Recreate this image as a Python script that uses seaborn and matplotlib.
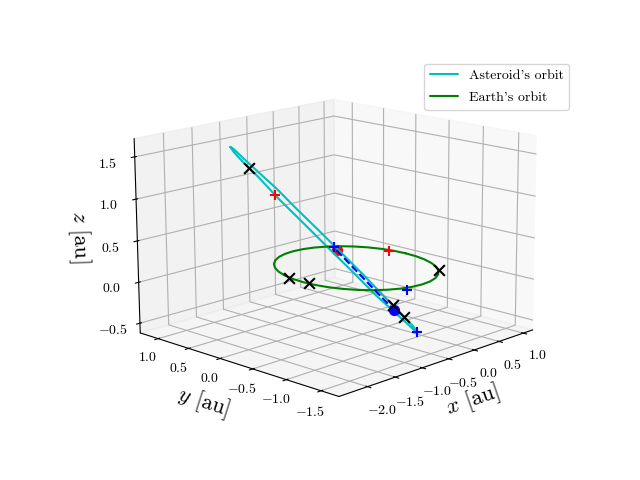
import matplotlib
matplotlib.use('Agg')
import matplotlib.pyplot as plt
import seaborn as sns

# orbit points (au)
ast_x = [-1.59, -1.33, -1.05, -0.76, -0.48, -0.24, -0.04, 0.09, 0.16, 0.14, 0.06, -0.10,
         -0.31, -0.57, -0.85, -1.14, -1.42, -1.66, -1.86, -1.99, -2.06, -2.04, -1.96, -1.80, -1.59]
ast_y = [0.60, 0.78, 0.88, 0.91, 0.85, 0.72, 0.52, 0.26, -0.03, -0.34, -0.65, -0.93,
         -1.17, -1.35, -1.45, -1.48, -1.42, -1.29, -1.09, -0.83, -0.54, -0.23, 0.08, 0.36, 0.60]
ast_z = [1.60, 1.51, 1.345, 1.14, 0.896, 0.62, 0.345, 0.085, -0.145, -0.325, -0.445, -0.49,
         -0.48, -0.39, -0.225, -0.02, 0.225, 0.50, 0.78, 1.04, 1.265, 1.45, 1.565, 1.61, 1.60]

earth_x = [1.0, 0.985, 0.94, 0.866, 0.766, 0.643, 0.5, 0.342, 0.174, 0.0, -0.174, -0.342, -0.5, -0.643,
           -0.766, -0.866, -0.94, -0.985, -1.0, -0.985, -0.94, -0.866, -0.766, -0.643, -0.5, -0.342,
           -0.174, 0.0, 0.174, 0.342, 0.5, 0.643, 0.766, 0.866, 0.94, 0.985, 1.0]
earth_y = [0.0, 0.174, 0.342, 0.5, 0.643, 0.766, 0.866, 0.94, 0.985, 1.0, 0.985, 0.94, 0.866, 0.766,
           0.643, 0.5, 0.342, 0.174, 0.0, -0.174, -0.342, -0.5, -0.643, -0.766, -0.866, -0.94,
           -0.985, -1.0, -0.985, -0.94, -0.866, -0.766, -0.643, -0.5, -0.342, -0.174, 0.0]
earth_z = [0.0] * len(earth_x)

# marked positions
black_x = [-0.86, 0.19, 0.09, 0.67, -0.97, -0.99]
black_y = [0.95, -0.42, -0.67, -0.75, 0.24, -0.08]
black_z = [1.19, -0.41, -0.49, 0.0, 0.0, 0.0]
red_x = [-0.46, 0.92]
red_y = [0.89, 0.19]
red_z = [0.80, 0.0]
blue_x = [0.135, -0.36, -0.34]
blue_y = [0.44, -1.20, -1.03]
blue_z = [0.146, -0.465, 0.0]
earth_now = [0.46, 0.67, 0.0]
ast_now = [0.16, -0.46, -0.46]

x_ticks = [-2.0, -1.5, -1.0, -0.5, 0.0, 0.5, 1.0]
y_ticks = [-1.5, -1.0, -0.5, 0.0, 0.5, 1.0]
z_ticks = [-0.5, 0.0, 0.5, 1.0, 1.5]

sns.set_style('ticks', rc={'axes.edgecolor': 'black', 'text.color': 'black', 'axes.labelcolor': 'black',
                           'xtick.color': 'black', 'ytick.color': 'black',
                           'grid.color': '#b0b0b0', 'grid.linewidth': 0.8})
plt.rcParams['font.family'] = ['cmr10', 'DejaVu Serif']
plt.rcParams['mathtext.fontset'] = 'cm'
plt.rcParams['axes.formatter.use_mathtext'] = True
plt.rcParams['axes.unicode_minus'] = True

fig = plt.figure(figsize=(6.4, 4.8), dpi=100)
ax = fig.add_axes([0.13, 0.114, 0.775, 0.77], projection='3d')
ax.view_init(14.7, -135.5, roll=0.3)
ax.set_box_aspect((4.2, 4.2, 3), zoom=1.17)

ax.plot(ast_x, ast_y, ast_z, color='c', label="Asteroid's orbit")
ax.plot(earth_x, earth_y, earth_z, color='g', label="Earth's orbit")
ax.plot([earth_now[0], ast_now[0]], [earth_now[1], ast_now[1]], [earth_now[2], ast_now[2]], 'b--', lw=1.5)
ax.scatter(black_x, black_y, black_z, marker='x', color='k', s=60, linewidths=1.5, depthshade=False)
ax.scatter(red_x, red_y, red_z, marker='+', color='r', s=60, linewidths=1.5, depthshade=False)
ax.scatter(blue_x, blue_y, blue_z, marker='+', color='b', s=60, linewidths=1.5, depthshade=False)
ax.scatter(*earth_now, color='r', s=50, depthshade=False)
ax.scatter(*ast_now, color='b', s=50, depthshade=False)

ax.set_xlim(-2.5, 1.2)
ax.set_ylim(-1.75, 1.3)
ax.set_zlim(-0.62, 1.715)
ax.set_xticks(x_ticks)
ax.set_yticks(y_ticks)
ax.set_zticks(z_ticks)
ax.set_xlabel(r'$x$ [au]', fontsize=16, labelpad=-0.5)
ax.set_ylabel(r'$y$ [au]', fontsize=16, labelpad=-0.5)
ax.set_zlabel(r'$z$ [au]', fontsize=16, labelpad=-0.7)
ax.tick_params(labelsize=10)
ax.tick_params(axis='x', pad=1)
ax.tick_params(axis='y', pad=-1)
ax.tick_params(axis='z', pad=1.5)
ax.legend(loc='upper right', bbox_to_anchor=(0.9, 0.882), bbox_transform=fig.transFigure,
          labelspacing=0.7)

fig.savefig('out.png', dpi=100)
